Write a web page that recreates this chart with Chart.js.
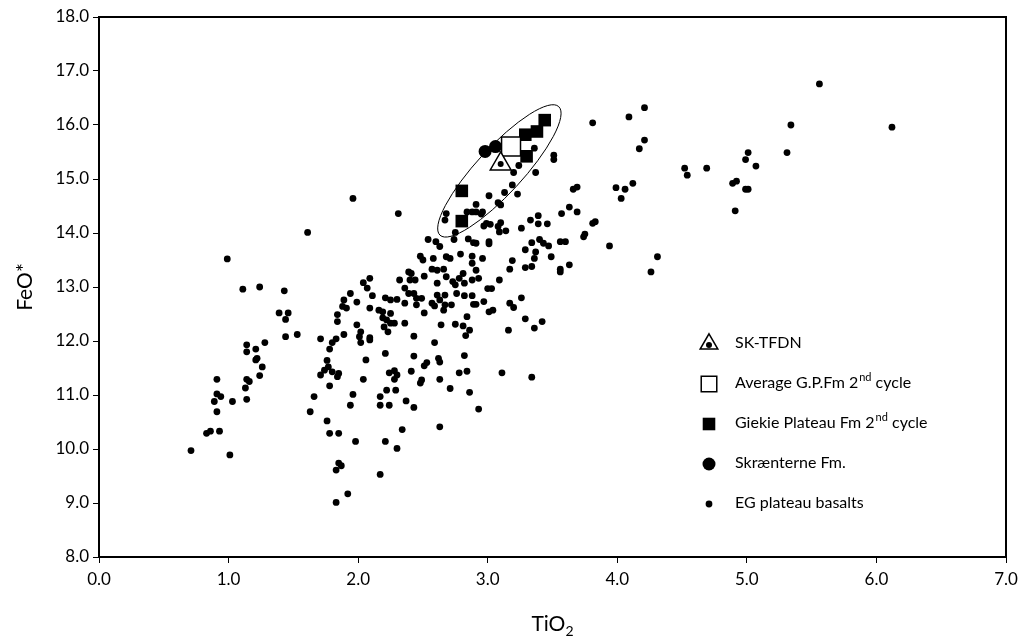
<!DOCTYPE html>
<html>
<head>
    <style>
        body { margin: 0; background: #fff; }
        #wrap { width: 1024px; height: 640px; }
    </style>
    <script src="https://cdn.jsdelivr.net/npm/chart.js"></script>
</head>
<body>
    <div id="wrap"><canvas id="myChart"></canvas></div>
    <script>
        // EG plateau basalts (TiO2, FeO*)
        var egTiO2 = [0.99,1.11,1.24,1.43,1.39,1.46,1.44,1.44,1.53,1.14,1.14,1.21,1.28,1.22,1.21,1.26,1.24,1.14,1.16,1.13,
            1.14,0.91,0.91,0.94,0.89,1.03,0.91,0.83,0.86,0.93,0.71,1.01,1.71,1.84,1.84,1.83,1.80,1.78,1.76,1.77,
            1.74,1.80,1.71,1.84,1.85,1.78,1.66,1.63,1.76,1.78,1.85,1.85,1.87,1.83,1.92,1.83,1.96,2.31,1.61,2.54,
            2.60,2.48,2.50,2.58,2.57,2.61,2.39,2.41,2.32,2.51,2.40,2.44,2.61,2.09,2.04,2.07,2.36,2.11,1.94,2.39,
            2.43,2.61,2.21,2.25,2.30,2.45,2.49,2.36,2.45,2.57,2.59,1.89,1.88,1.91,1.99,2.09,2.16,2.19,2.25,2.19,
            2.22,2.20,2.25,2.28,2.23,2.36,2.51,1.99,2.02,2.01,1.89,2.09,2.43,3.20,3.37,3.19,3.23,3.13,3.01,3.08,
            3.10,2.91,2.84,2.88,2.91,2.96,2.95,2.68,2.67,2.99,2.97,3.02,3.10,3.09,3.14,3.08,3.26,3.33,3.39,3.39,
            3.46,3.57,3.63,3.69,3.66,3.69,3.74,3.75,2.75,2.74,2.85,2.89,2.91,3.01,3.01,2.63,3.34,3.40,3.43,3.47,
            3.56,3.60,3.29,3.37,2.68,2.71,2.79,2.88,2.88,2.96,3.19,3.36,3.34,3.29,3.49,3.17,3.56,3.56,3.63,2.66,
            2.68,2.81,2.78,2.91,2.93,2.88,2.73,2.75,2.82,2.76,3.09,2.67,2.82,2.88,3.00,3.03,2.63,2.72,2.67,2.89,
            2.91,2.97,3.26,3.17,3.20,2.66,3.01,3.04,2.84,2.64,2.75,2.81,2.86,2.83,3.16,3.29,3.36,3.42,2.02,2.09,
            2.21,2.06,2.43,2.59,2.04,2.24,2.28,2.30,2.28,2.41,2.53,2.51,2.49,2.48,2.62,2.63,1.96,1.94,2.17,2.22,
            2.29,2.17,2.24,2.37,2.43,1.98,2.21,2.34,2.30,2.63,2.17,2.82,2.63,2.78,2.84,3.11,3.34,2.71,2.86,2.93,
            3.36,3.51,3.51,3.24,3.81,4.09,4.21,4.21,4.17,3.99,4.06,4.12,4.03,3.81,3.83,3.94,4.31,4.26,4.52,4.54,
            4.69,4.89,4.92,4.99,5.01,4.91,5.01,4.99,5.07,5.31,5.34,6.12,5.56];
        var egFeO = [13.52,12.96,13.00,12.93,12.52,12.52,12.40,12.08,12.12,11.93,11.80,11.85,11.97,11.68,11.65,11.52,11.36,11.29,11.25,11.13,
            10.92,11.29,11.02,10.97,10.88,10.88,10.69,10.29,10.33,10.33,9.97,9.89,12.04,12.49,12.36,12.04,11.97,11.85,11.64,11.52,
            11.46,11.43,11.37,11.34,11.40,11.17,10.97,10.69,10.52,10.29,10.29,9.74,9.69,9.61,9.17,9.01,14.64,14.36,14.01,13.88,
            13.84,13.57,13.50,13.53,13.33,13.31,13.28,13.25,13.13,13.20,13.13,13.13,13.07,13.16,13.08,12.98,12.98,12.84,12.88,12.88,
            12.88,12.85,12.80,12.76,12.77,12.79,12.79,12.70,12.67,12.70,12.65,12.76,12.64,12.61,12.72,12.61,12.57,12.54,12.51,12.43,
            12.39,12.26,12.33,12.33,12.17,12.33,12.52,12.30,12.17,12.08,12.12,12.06,12.09,15.12,15.12,14.89,14.72,14.75,14.69,14.56,
            14.52,14.53,14.39,14.39,14.39,14.39,14.35,14.36,14.24,14.18,14.13,14.16,14.19,14.02,14.04,14.12,14.09,14.24,14.32,14.17,
            14.17,14.36,14.48,14.39,14.81,14.85,13.93,13.98,14.01,13.88,13.89,13.82,13.81,13.84,13.80,13.75,13.82,13.88,13.81,13.76,
            13.84,13.84,13.69,13.65,13.56,13.53,13.61,13.57,13.44,13.53,13.49,13.53,13.38,13.36,13.56,13.33,13.33,13.28,13.41,13.33,
            13.19,13.25,13.16,13.31,13.16,13.13,13.10,13.04,13.07,12.88,13.13,12.85,12.84,12.84,12.97,12.97,12.76,12.67,12.67,12.68,
            12.68,12.73,12.80,12.70,12.62,12.57,12.54,12.57,12.45,12.30,12.31,12.28,12.20,12.10,12.20,12.41,12.24,12.36,11.97,12.02,
            11.77,11.65,11.72,11.97,11.29,11.41,11.45,11.37,11.29,11.44,11.60,11.54,11.28,11.22,11.68,11.29,11.01,10.81,10.97,11.09,
            11.09,10.81,10.81,10.89,10.77,10.14,10.14,10.36,10.01,10.41,9.53,11.73,11.61,11.41,11.44,11.41,11.33,11.12,11.05,10.74,
            15.57,15.44,15.36,15.25,16.04,16.15,16.32,15.72,15.56,14.84,14.81,14.92,14.64,14.18,14.21,13.76,13.56,13.28,15.20,15.07,
            15.20,14.92,14.96,14.81,14.81,14.41,15.49,15.36,15.24,15.49,16.00,15.96,16.76];

        // Giekie Plateau Fm 2nd cycle
        var gpTiO2 = [3.44, 3.38, 3.29, 3.30, 2.80, 2.80];
        var gpFeO = [16.09, 15.88, 15.82, 15.42, 14.78, 14.22];
        // Average G.P.Fm 2nd cycle
        var avgTiO2 = [3.18];
        var avgFeO = [15.60];
        // Skraenterne Fm.
        var skTiO2 = [2.98, 3.06];
        var skFeO = [15.51, 15.60];
        // SK-TFDN
        var tfdnTiO2 = [3.10];
        var tfdnFeO = [15.28];

        var xTickValues = [0, 1, 2, 3, 4, 5, 6, 7];
        var xTickLabels = ['0.0', '1.0', '2.0', '3.0', '4.0', '5.0', '6.0', '7.0'];
        var yTickValues = [8, 9, 10, 11, 12, 13, 14, 15, 16, 17, 18];
        var yTickLabels = ['8.0', '9.0', '10.0', '11.0', '12.0', '13.0', '14.0', '15.0', '16.0', '17.0', '18.0'];

        // ellipse round the 2nd cycle group, centre in data units
        var ellipseCentre = [3.09, 15.15];

        var legendRows = [
            { style: 'tfdn', text: 'SK-TFDN' },
            { style: 'avg', text: 'Average G.P.Fm 2', sup: 'nd', tail: ' cycle' },
            { style: 'gp', text: 'Giekie Plateau Fm 2', sup: 'nd', tail: ' cycle' },
            { style: 'sk', text: 'Skr\u00e6nterne Fm.' },
            { style: 'eg', text: 'EG plateau basalts' }
        ];

        function pts(xs, ys) {
            return xs.map(function (x, i) { return { x: x, y: ys[i] }; });
        }

        var FONT = 'Lato, "Open Sans", sans-serif';
        Chart.defaults.font.family = FONT;
        Chart.defaults.font.size = 17;
        Chart.defaults.color = '#000';

        var markers = {
            tfdn: { pointStyle: 'triangle', radius: 12, fill: '#fff', border: 1.5 },
            avg: { pointStyle: 'rect', radius: 13.4, fill: '#fff', border: 1.5 },
            gp: { pointStyle: 'rect', radius: 8.9, fill: '#000', border: 0 },
            sk: { pointStyle: 'circle', radius: 6.5, fill: '#000', border: 0 },
            eg: { pointStyle: 'circle', radius: 3.4, fill: '#000', border: 0 }
        };

        function drawMarker(ctx, key, x, y, scale) {
            var m = markers[key];
            ctx.fillStyle = m.fill;
            ctx.strokeStyle = '#000';
            ctx.lineWidth = m.border;
            Chart.helpers.drawPoint(ctx, {
                pointStyle: m.pointStyle, radius: m.radius * scale, rotation: 0, borderWidth: m.border
            }, x, y);
            if (key === 'tfdn') {
                ctx.fillStyle = '#000';
                ctx.beginPath();
                ctx.arc(x, y + 1, 3, 0, Math.PI * 2);
                ctx.fill();
            }
        }

        var extras = {
            id: 'extras',
            afterDraw: function (chart) {
                var ctx = chart.ctx, a = chart.chartArea;
                var xs = chart.scales.x, ys = chart.scales.y;
                ctx.save();

                // frame
                ctx.strokeStyle = '#000';
                ctx.lineWidth = 2;
                ctx.strokeRect(a.left, a.top, a.right - a.left, a.bottom - a.top);

                // ellipse
                ctx.lineWidth = 1;
                ctx.beginPath();
                ctx.ellipse(xs.getPixelForValue(ellipseCentre[0]), ys.getPixelForValue(ellipseCentre[1]),
                    87.5, 23, -47.3 * Math.PI / 180, 0, Math.PI * 2);
                ctx.stroke();

                // legend
                var lx = 709, tx = 735, ly = 343, gap = 40;
                legendRows.forEach(function (row, i) {
                    var y = ly + gap * i;
                    drawMarker(ctx, row.style, lx, y + 1, row.style === 'avg' ? 0.82 : (row.style === 'tfdn' ? 0.85 : 1));
                    ctx.fillStyle = '#000';
                    ctx.textBaseline = 'middle';
                    ctx.textAlign = 'left';
                    ctx.font = '16px ' + FONT;
                    ctx.fillText(row.text, tx, y);
                    if (row.sup) {
                        var w = ctx.measureText(row.text).width;
                        ctx.font = '11px ' + FONT;
                        ctx.fillText(row.sup, tx + w + 1, y - 6);
                        var ws = ctx.measureText(row.sup).width;
                        ctx.font = '16px ' + FONT;
                        ctx.fillText(row.tail, tx + w + ws + 1, y);
                    }
                });

                // x axis title: TiO2
                var cx = (a.left + a.right) / 2;
                ctx.font = '21px ' + FONT;
                ctx.textBaseline = 'alphabetic';
                var w1 = ctx.measureText('TiO').width;
                ctx.font = '14px ' + FONT;
                var w2 = ctx.measureText('2').width;
                var sx = cx - (w1 + w2) / 2;
                ctx.font = '21px ' + FONT;
                ctx.fillText('TiO', sx, 631);
                ctx.font = '14px ' + FONT;
                ctx.fillText('2', sx + w1, 636);

                // y axis title: FeO*
                ctx.translate(32, (a.top + a.bottom) / 2);
                ctx.rotate(-Math.PI / 2);
                ctx.textAlign = 'center';
                ctx.font = '21px ' + FONT;
                ctx.fillText('FeO*', 0, 0);

                ctx.restore();
            }
        };

        function ds(key, xs, ys) {
            var m = markers[key];
            return {
                data: pts(xs, ys),
                pointStyle: m.pointStyle,
                pointRadius: m.radius,
                pointBackgroundColor: m.fill,
                pointBorderColor: '#000',
                pointBorderWidth: m.border,
                pointHoverRadius: m.radius
            };
        }

        var tfdnDot = ds('eg', tfdnTiO2, tfdnFeO);
        tfdnDot.pointRadius = 3;

        var ctx = document.getElementById('myChart').getContext('2d');
        var myChart = new Chart(ctx, {
            type: 'scatter',
            data: {
                datasets: [
                    tfdnDot,
                    ds('tfdn', tfdnTiO2, tfdnFeO),
                    ds('avg', avgTiO2, avgFeO),
                    ds('sk', skTiO2, skFeO),
                    ds('gp', gpTiO2, gpFeO),
                    ds('eg', egTiO2, egFeO)
                ]
            },
            options: {
                responsive: true,
                maintainAspectRatio: false,
                animation: false,
                layout: { padding: { top: 17, right: 18, left: 0, bottom: 0 } },
                plugins: { legend: { display: false }, tooltip: { enabled: false } },
                scales: {
                    x: {
                        type: 'linear',
                        min: 0,
                        max: 7,
                        afterFit: function (s) { s.height = 83; },
                        afterBuildTicks: function (s) { s.ticks = xTickValues.map(function (v) { return { value: v }; }); },
                        ticks: {
                            padding: 6,
                            maxRotation: 0,
                            callback: function (v, i) { return xTickLabels[i]; }
                        },
                        grid: { drawOnChartArea: false, drawTicks: true, tickLength: 6, color: '#000', lineWidth: 1 },
                        border: { display: true, color: '#000', width: 2 }
                    },
                    y: {
                        type: 'linear',
                        min: 8,
                        max: 18,
                        afterFit: function (s) { s.width = 99; },
                        afterBuildTicks: function (s) { s.ticks = yTickValues.map(function (v) { return { value: v }; }); },
                        ticks: {
                            padding: 4,
                            callback: function (v, i) { return yTickLabels[i]; }
                        },
                        grid: { drawOnChartArea: false, drawTicks: true, tickLength: 6, color: '#000', lineWidth: 1 },
                        border: { display: true, color: '#000', width: 2 }
                    }
                }
            },
            plugins: [extras]
        });
    </script>
</body>
</html>
